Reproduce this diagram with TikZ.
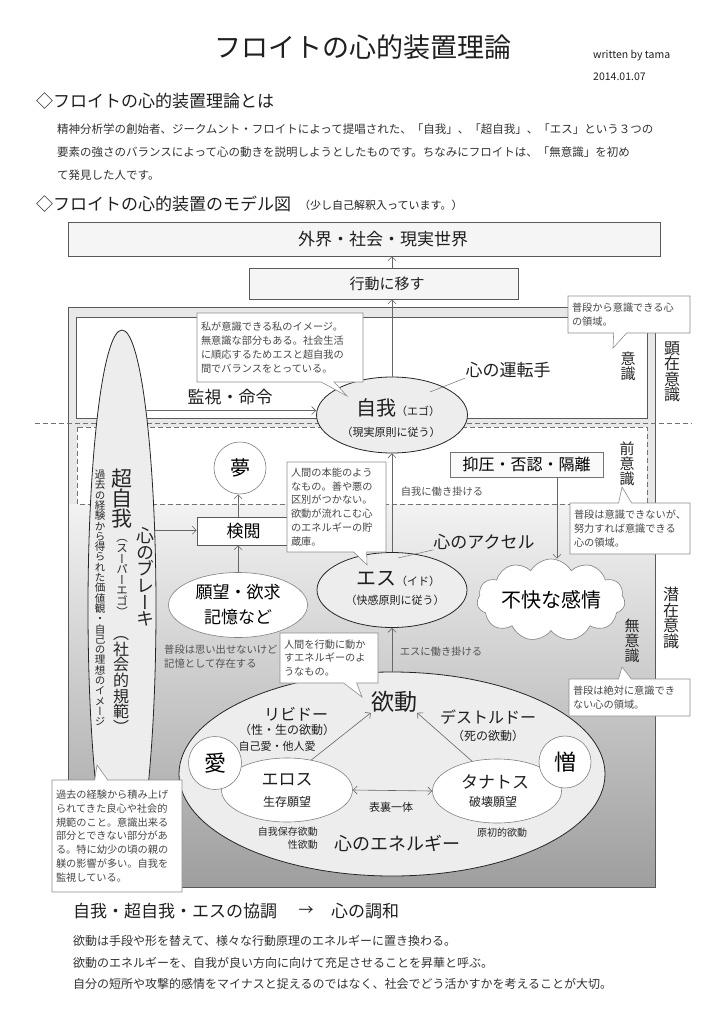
\documentclass[tikz,border=0pt]{standalone}
\usepackage{fontspec}
\setmainfont{Noto Sans CJK JP}
\newfontfamily\vfont{Noto Sans CJK JP}[RawFeature=+vert]
\usetikzlibrary{shapes.geometric,shapes.symbols,shapes.callouts,arrows.meta}
\newcommand\fz[1]{\fontsize{#1}{#1}\selectfont}
\newcommand\fzb[2]{\fontsize{#1}{#2}\selectfont\lineskiplimit=-50pt\lineskip=0pt}
\begin{document}
\begin{tikzpicture}[x=1pt,y=-1pt,
  arr/.style={draw=black!60, line width=0.6pt, -{Straight Barb[length=4pt,width=8pt]}},
  darr/.style={draw=black!60, line width=0.6pt, {Straight Barb[length=4pt,width=8pt]}-{Straight Barb[length=4pt,width=8pt]}},
  lead/.style={draw=black!55, line width=0.5pt},
  sqbox/.style={rectangle, draw=black!65, line width=0.7pt, inner sep=0pt},
  ell/.style={ellipse, draw=black!85, line width=0.8pt, fill=black!7, inner sep=0pt},
  wel/.style={ellipse, draw=black!50, line width=0.6pt, fill=white, inner sep=0pt},
  circ/.style={circle, draw=black!50, line width=0.6pt, fill=white, inner sep=0pt, minimum size=53pt},
  note/.style={rectangle callout, draw=black!45, fill=white, line width=0.6pt, text=black!72, align=left, inner xsep=4pt, inner ysep=3pt, callout pointer width=13pt, font=\fzb{10.2}{13.8}},
  lbl/.style={inner sep=0pt, text=black!88},
  small/.style={inner sep=0pt, text=black!68, font=\fz{10.3}},
  vt/.style={align=center, inner sep=0pt, text=black!85},
  dsh/.style={draw=black!55, line width=0.6pt, dash pattern=on 5pt off 3pt},
]
\fill[white] (0,0) rectangle (725,1024);
\useasboundingbox (0,0) rectangle (725,1024);

% ---------- header ----------
\node[lbl, font=\fz{27}] (title) at (363,47) {フロイトの心的装置理論};
\node[lbl, anchor=west, font=\fz{10.5}] (author) at (593,56) {written by tama};
\node[lbl, anchor=west, font=\fz{10.5}] (date) at (593,77) {2014.01.07};
\node[lbl, anchor=west, font=\fz{17}] (h1) at (36,101) {◇フロイトの心的装置理論とは};
\node[lbl, anchor=west, font=\fz{11.5}, text=black!80] (p1) at (57,129) {精神分析学の創始者、ジークムント・フロイトによって提唱された、「自我」、「超自我」、「エス」という３つの};
\node[lbl, anchor=west, font=\fz{11.5}, text=black!80] (p2) at (57,152) {要素の強さのバランスによって心の動きを説明しようとしたものです。ちなみにフロイトは、「無意識」を初め};
\node[lbl, anchor=west, font=\fz{11.5}, text=black!80] (p3) at (57,175) {て発見した人です。};
\node[lbl, anchor=west, font=\fz{17}] (h2) at (36,204) {◇フロイトの心的装置のモデル図};
\node[lbl, anchor=west, font=\fz{11}] (h2b) at (299,205) {（少し自己解釈入っています。）};

% ---------- top boxes ----------
\node[sqbox, fill=black!4, minimum width=592, minimum height=34] (gaikai) at (364,239) {};
\node[lbl, font=\fz{17}] (gaikait) at (383,239) {外界・社会・現実世界};
\node[sqbox, fill=black!4, minimum width=269, minimum height=31] (koudou) at (383.5,283.5) {};
\node[lbl, font=\fz{15}] (koudout) at (387,283.5) {行動に移す};

% ---------- frame ----------
\fill[black!9] (68,307) rectangle (655,504);
\shade[top color=black!5, middle color=black!13, bottom color=black!38] (68,504) rectangle (655,887);
\draw[black!65, line width=0.7pt] (68,307) rectangle (655,887);
\draw[black!65, line width=0.7pt, fill=white] (76,317) rectangle (647,418);
\fill[white] (77,427) rectangle (647,504);
\draw[dsh] (77,427) rectangle (647,504);
\draw[dsh] (35,423) -- (692,423);

% ---------- superego ----------
\node[ell, minimum width=68, minimum height=556] (sup) at (122,608) {};
\node[vt, font=\vfont\fzb{21}{20}] (sup1) at (122,499) {超\\自\\我};
\node[vt, font=\vfont\fzb{11.5}{10.6}] (sup2) at (122,578) {（\\ス\\ー\\パ\\ー\\エ\\ゴ\\）};
\node[vt, font=\vfont\fzb{16}{15.6}] (sup3) at (121,685) {（\\社\\会\\的\\規\\範\\）};
\node[vt, font=\vfont\fzb{10.5}{10.3}] (sup4) at (100,598) {過\\去\\の\\経\\験\\か\\ら\\得\\ら\\れ\\た\\価\\値\\観\\・\\自\\己\\の\\理\\想\\の\\イ\\メ\\ー\\ジ};
\node[vt, font=\vfont\fzb{18}{16.7}] (brake) at (145,577) {心\\の\\ブ\\レ\\ー\\キ};

% ---------- ego ----------
\node[ell, minimum width=151, minimum height=76] (jiga) at (392,415) {};
\node[lbl] (jigat) at (398,408) {\fz{20}自我\fz{11}（エゴ）};
\node[lbl, font=\fz{11}] (jigat2) at (391,432) {（現実原則に従う）};
\node[lbl, font=\fz{17}] (kanshi) at (230,397) {監視・命令};
\node[lbl, font=\fz{17}] (untenshu) at (508,370) {心の運転手};
\coordinate (u1) at (430,392);
\draw[lead] (u1) -- (untenshu.south west);
\draw[arr] (sup.83) -- (jiga.west |- sup.83);
\draw[arr] (jiga.north) -- (jiga.north |- koudou.south);
\draw[arr] (jiga.north |- koudou.north) -- (jiga.north |- gaikai.south);

% ---------- preconscious ----------
\node[circ, minimum size=52, font=\fz{20}] (yume) at (240,468) {夢};
\node[sqbox, fill=white, minimum width=93, minimum height=28, font=\fz{17}] (ken) at (243.5,531) {検閲};
\node[sqbox, draw=black!55, fill=black!2, minimum width=153, minimum height=25, font=\fz{16}] (yoku) at (526.5,464.5) {抑圧・否認・隔離};
\node[small] (hataraki1) at (442,492) {自我に働き掛ける};

% ---------- id ----------
\node[ell, minimum width=150, minimum height=75] (es) at (392,590) {};
\node[lbl] (est) at (398,579) {\fz{20}エス\fz{11}（イド）};
\node[lbl, font=\fz{11}] (est2) at (395,600) {（快感原則に従う）};
\node[lbl, font=\fz{17}] (accel) at (484,542) {心のアクセル};
\coordinate (a1) at (398,558);
\draw[lead] (a1) -- (accel.south west);
\draw[arr] (es.north) -- (jiga.south);

\node[wel, minimum width=139, minimum height=65, align=center, font=\fzb{17}{25}] (ganbo) at (238,605) {願望・欲求\\記憶など};
\draw[arr] (ganbo.north) -- (ganbo.north |- ken.south);
\draw[arr] (ganbo.north |- ken.north) -- (ganbo.north |- yume.south);
\draw[arr] (sup.67) -- (ken.west |- sup.67);
\node[small, anchor=west] (futan1) at (164,650) {普段は思い出せないけど};
\node[small, anchor=west] (futan2) at (164,664) {記憶として存在する};

\node[cloud, cloud puffs=11, cloud puff arc=120, aspect=2.3, draw=black!50, fill=white, line width=0.6pt, minimum width=148, minimum height=65, inner sep=0pt, font=\fz{20}] (fukai) at (551,600) {不快な感情};
\coordinate (fx) at (557,0);
\draw[arr] (yoku.south -| fx) -- (fx |- fukai.north);

% ---------- drive ----------
\node[ell, minimum width=426, minimum height=204] (drive) at (392,774) {};
\draw[arr] (drive.north) -- (es.south);
\node[small] (hataraki2) at (441,652) {エスに働き掛ける};
\node[lbl, font=\fz{23}] (ydt) at (394,702) {欲動};
\node[lbl, font=\fz{16}] (libido) at (296,714) {リビドー};
\node[lbl, font=\fz{12}] (libido2) at (287,730) {（性・生の欲動）};
\node[lbl, font=\fz{11}] (libido3) at (277,746) {自己愛・他人愛};
\node[lbl, font=\fz{16}] (destr) at (488,717) {デストルドー};
\node[lbl, font=\fz{12}] (destr2) at (488,736) {（死の欲動）};
\node[wel, minimum width=131, minimum height=64] (eros) at (287,790) {};
\node[lbl, font=\fz{17}] (erost) at (287,780) {エロス};
\node[lbl, font=\fz{12}] (erost2) at (287,802) {生存願望};
\node[wel, minimum width=129, minimum height=64] (than) at (497,791) {};
\node[lbl, font=\fz{17}] (thant) at (495,782) {タナトス};
\node[lbl, font=\fz{12}] (thant2) at (493,802) {破壊願望};
\node[circ, font=\fz{22}] (ai) at (215,763) {愛};
\node[circ, minimum size=52, font=\fz{22}] (niku) at (565,762) {憎};
\draw[arr] (eros.51) -- (ydt.south west);
\draw[arr] (than.130) -- (ydt.south east);
\draw[darr] (eros.east) -- (than.west);
\node[lbl, font=\fz{11}] (hyouri) at (391,807) {表裏一体};
\node[small, anchor=east, text=black!85, font=\fz{10}] (jiko) at (318,832) {自我保存欲動};
\node[small, anchor=east, text=black!85, font=\fz{10}] (sei) at (318,845) {性欲動};
\node[small, text=black!85, font=\fz{10}] (genso) at (502,833) {原初的欲動};
\node[lbl, font=\fz{18}] (energy) at (397,843) {心のエネルギー};

% ---------- side labels ----------
\node[vt, font=\vfont\fzb{15}{15}] (ishiki) at (628,366) {意\\識};
\node[vt, font=\vfont\fzb{16}{15.5}] (kenzai) at (672,372) {顕\\在\\意\\識};
\node[vt, font=\vfont\fzb{15}{15}] (zen) at (627,464) {前\\意\\識};
\node[vt, font=\vfont\fzb{15}{15}] (mu) at (632,641) {無\\意\\識};
\node[vt, font=\vfont\fzb{16}{15.5}] (senzai) at (671,618) {潜\\在\\意\\識};

% ---------- callouts ----------
\node[note, minimum width=122, minimum height=37, text width=114, callout absolute pointer={(613,348)}] (c1) at (629,314.5) {普段から意識できる心\\の領域。};
\node[note, minimum width=166, minimum height=69, text width=158, callout absolute pointer={(347,396)}] (c2) at (280,347.5) {私が意識できる私のイメージ。\\無意識な部分もある。社会生活\\に順応するためエスと超自我の\\間でバランスをとっている。};
\node[note, minimum width=99, minimum height=90, text width=91, callout absolute pointer={(367,565)}] (c3) at (336.5,507) {人間の本能のよう\\なもの。善や悪の\\区別がつかない。\\欲動が流れこむ心\\のエネルギーの貯\\蔵庫。};
\node[note, minimum width=120, minimum height=51, text width=112, callout absolute pointer={(622,487)}] (c4) at (630,528.5) {普段は意識できないが、\\努力すれば意識できる\\心の領域。};
\node[note, minimum width=98, minimum height=50, text width=90, callout absolute pointer={(362,697)}] (c5) at (329,658) {人間を行動に動か\\すエネルギーのよ\\うなもの。};
\node[note, minimum width=121, minimum height=37, text width=113, callout absolute pointer={(622,667)}] (c6) at (629.5,697.5) {普段は絶対に意識でき\\ない心の領域。};
\node[note, minimum width=130, minimum height=112, text width=122, callout absolute pointer={(97,765)}] (c7) at (117,836) {過去の経験から積み上げ\\られてきた良心や社会的\\規範のこと。意識出来る\\部分とできない部分があ\\る。特に幼少の頃の親の\\躾の影響が多い。自我を\\監視している。};

% ---------- bottom ----------
\node[lbl, anchor=west, font=\fz{17}] (b0) at (73,911) {自我・超自我・エスの協調};
\node[lbl, font=\fz{15}] (b0a) at (306,911) {→};
\node[lbl, anchor=west, font=\fz{17}] (b0b) at (331,911) {心の調和};
\node[lbl, anchor=west, font=\fz{12}, text=black!80] (b1) at (73,941) {欲動は手段や形を替えて、様々な行動原理のエネルギーに置き換わる。};
\node[lbl, anchor=west, font=\fz{12}, text=black!80] (b2) at (73,963) {欲動のエネルギーを、自我が良い方向に向けて充足させることを昇華と呼ぶ。};
\node[lbl, anchor=west, font=\fz{12}, text=black!80] (b3) at (73,984) {自分の短所や攻撃的感情をマイナスと捉えるのではなく、社会でどう活かすかを考えることが大切。};
\end{tikzpicture}
\end{document}
